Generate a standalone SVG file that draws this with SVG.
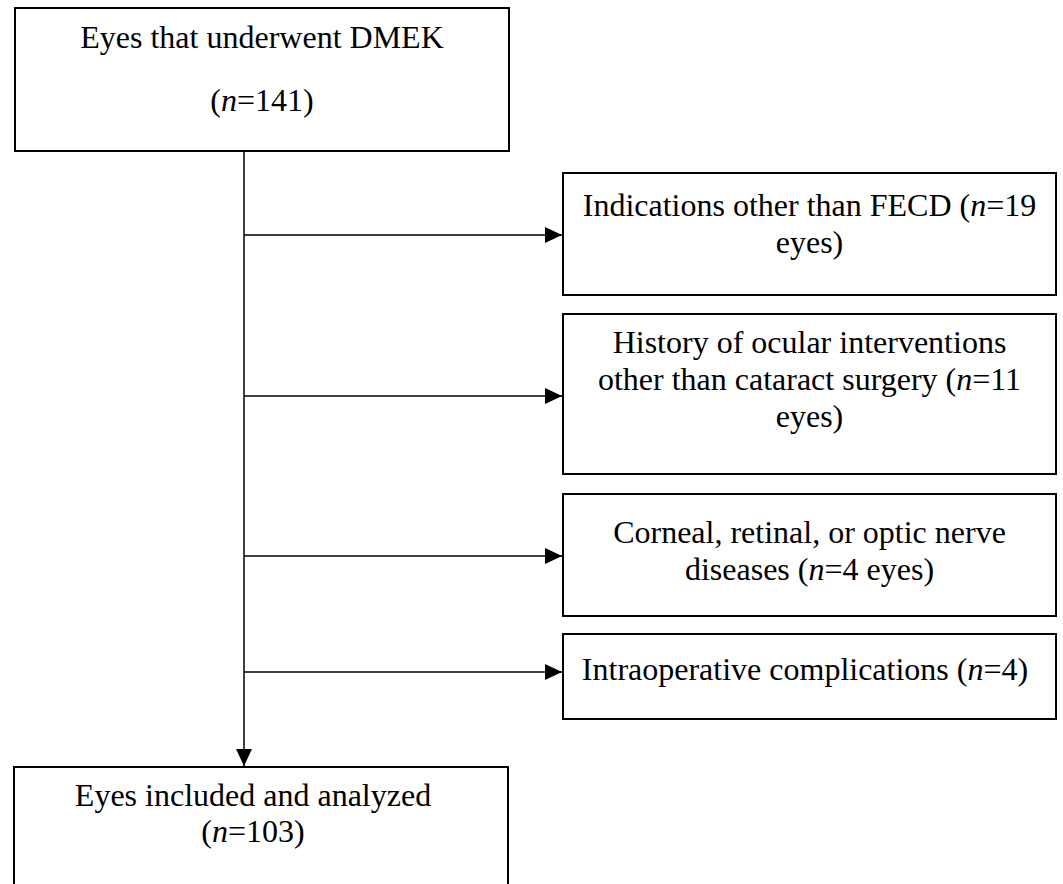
<svg xmlns="http://www.w3.org/2000/svg" width="1063" height="884" viewBox="0 0 1063 884">
<style>
.box{fill:#fff;stroke:#000;stroke-width:2}
.t{font-family:"Liberation Serif","Times New Roman",serif;font-size:32px;fill:#000;text-anchor:middle}
.c{stroke:#000;stroke-width:1.5;fill:none}
</style>
<defs>
<marker id="ah" markerUnits="userSpaceOnUse" markerWidth="17" markerHeight="17" viewBox="0 0 17 17" refX="17" refY="8.5" orient="auto">
<path d="M0,0.5 L17,8.5 L0,16.5 Z" fill="#000"/>
</marker>
</defs>
<rect width="1063" height="884" fill="#fff"/>
<g id="connectors">
<line class="c" x1="244" y1="151" x2="244" y2="766" marker-end="url(#ah)"/>
<line class="c" x1="244" y1="235" x2="562" y2="235" marker-end="url(#ah)"/>
<line class="c" x1="244" y1="396" x2="562" y2="396" marker-end="url(#ah)"/>
<line class="c" x1="244" y1="556" x2="562" y2="556" marker-end="url(#ah)"/>
<line class="c" x1="244" y1="672" x2="562" y2="672" marker-end="url(#ah)"/>
</g>
<g id="start">
<rect class="box" x="15" y="8" width="494" height="143"/>
<text class="t" x="262" y="48">Eyes that underwent DMEK</text>
<text class="t" x="262" y="111">(<tspan font-style="italic">n</tspan>=141)</text>
</g>
<g id="ex1">
<rect class="box" x="563" y="173" width="493" height="122"/>
<text class="t" x="809.5" y="216">Indications other than FECD (<tspan font-style="italic">n</tspan>=19</text>
<text class="t" x="809.5" y="253">eyes)</text>
</g>
<g id="ex2">
<rect class="box" x="563" y="314" width="493" height="160"/>
<text class="t" x="809.5" y="353">History of ocular interventions</text>
<text class="t" x="809.5" y="390">other than cataract surgery (<tspan font-style="italic">n</tspan>=11</text>
<text class="t" x="809.5" y="427">eyes)</text>
</g>
<g id="ex3">
<rect class="box" x="563" y="494" width="493" height="122"/>
<text class="t" x="809.5" y="543">Corneal, retinal, or optic nerve</text>
<text class="t" x="809.5" y="580">diseases (<tspan font-style="italic">n</tspan>=4 eyes)</text>
</g>
<g id="ex4">
<rect class="box" x="563" y="634" width="493" height="85"/>
<text class="t" x="805" y="680">Intraoperative complications (<tspan font-style="italic">n</tspan>=4)</text>
</g>
<g id="final">
<rect class="box" x="14" y="767" width="494" height="140"/>
<text class="t" x="253" y="806">Eyes included and analyzed</text>
<text class="t" x="253" y="842">(<tspan font-style="italic">n</tspan>=103)</text>
</g>
</svg>
